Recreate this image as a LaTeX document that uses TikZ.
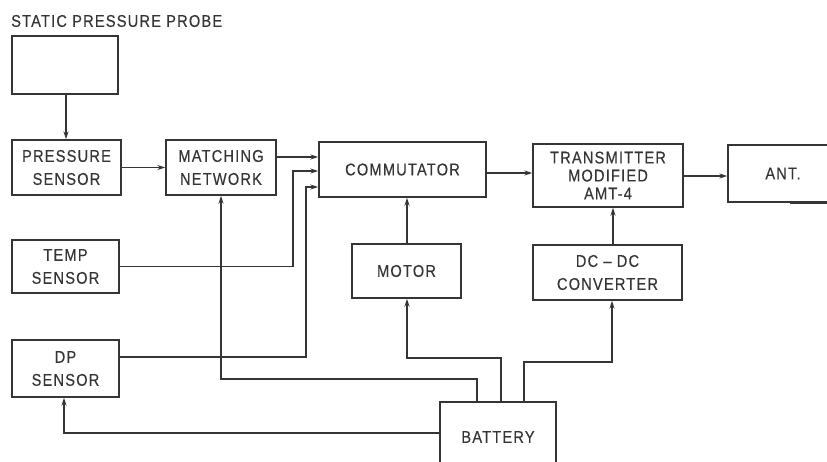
\documentclass[tikz,border=0pt]{standalone}
\usepackage{fontspec}
\setmainfont{Liberation Sans}[FakeStretch=0.86,LetterSpace=7,FakeBold=0.3]
\usetikzlibrary{arrows.meta}
\definecolor{ink}{HTML}{353535}
\begin{document}
\begin{tikzpicture}[x=1pt,y=-1pt,
  blk/.style={draw=ink,line width=1.4pt,rectangle,inner sep=0pt,align=center,text=ink,
    font=\fontsize{17}{23}\selectfont},
  wire/.style={draw=ink,line width=1.3pt},
  arr/.style={wire,-{Stealth[length=8pt,width=5pt]}}]
\useasboundingbox (0,0) rectangle (827,461);
\clip (0,0) rectangle (827,461);
\node[anchor=west,text=ink,font=\fontsize{17}{19}\selectfont,inner sep=0pt] (lbl) at (11,21) {STATIC PRESSURE PROBE};
\node[blk,minimum width=106pt,minimum height=58pt] (probe) at (65,65) {};
\node[blk,minimum width=109pt,minimum height=55pt] (psens) at (66.5,167.5) {PRESSURE\\SENSOR};
\node[blk,minimum width=110pt,minimum height=55pt] (match) at (221,167.5) {MATCHING\\NETWORK};
\node[blk,minimum width=167pt,minimum height=55pt] (comm) at (402.5,169.5) {COMMUTATOR};
\node[blk,minimum width=150pt,minimum height=63pt,font=\fontsize{17}{18}\selectfont] (trans) at (608,175.5) {TRANSMITTER\\MODIFIED\\AMT-4};
\node[blk,minimum width=110pt,minimum height=57pt] (ant) at (783,173.5) {ANT.};
\node[blk,minimum width=107pt,minimum height=53pt] (temp) at (65.5,266.5) {TEMP\\SENSOR};
\node[blk,minimum width=109pt,minimum height=54pt] (motor) at (406.5,271) {MOTOR};
\node[blk,minimum width=149pt,minimum height=55pt] (dcdc) at (607.5,272.5) {DC -- DC\\CONVERTER};
\node[blk,minimum width=107pt,minimum height=57pt] (dp) at (65.5,368.5) {DP\\SENSOR};
\node[blk,minimum width=116pt,minimum height=78pt] (bat) at (498,441) {};
\node[text=ink,font=\fontsize{17}{23}\selectfont,inner sep=0pt] (battxt) at (498,437) {BATTERY};
% connectors
\draw[arr] (probe.south -| 66,0) -- (psens.north -| 66,0);
\draw[arr] (psens.east) -- (match.west);
\draw[arr] (match.east |- 0,157) -- (comm.west |- 0,157);
\draw[arr] (temp.east) -- (293,266.5) -- (293,171) -- (comm.west |- 0,171);
\draw[arr] (dp.east |- 0,357) -- (306,357) -- (306,187) -- (comm.west |- 0,187);
\draw[arr] (comm.east |- 0,173) -- (trans.west |- 0,173);
\draw[arr] (trans.east |- 0,176) -- (ant.west |- 0,176);
\draw[arr] (motor.north -| 407,0) -- (comm.south -| 407,0);
\draw[arr] (dcdc.north -| 613,0) -- (trans.south -| 613,0);
\draw[arr] (bat.north -| 477,0) -- (477,379) -- (221,379) -- (match.south -| 221,0);
\draw[arr] (bat.north -| 501,0) -- (501,358) -- (407,358) -- (motor.south -| 407,0);
\draw[arr] (bat.north -| 524,0) -- (524,362) -- (612,362) -- (dcdc.south -| 612,0);
\draw[arr] (bat.west |- 0,433) -- (64,433) -- (dp.south -| 64,0);
\draw[ink,line width=2.4pt] (ant.south -| 790,0) -- (ant.south -| 827,0);
\end{tikzpicture}
\end{document}
